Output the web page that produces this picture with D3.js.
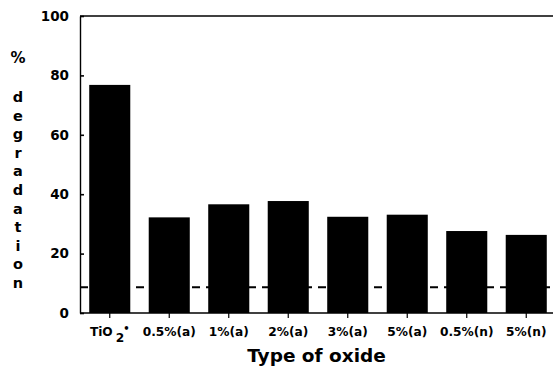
<!DOCTYPE html>
<html>
<head>
<meta charset="utf-8">
<script src="https://cdn.jsdelivr.net/npm/d3@7"></script>
<style>
  body { margin: 0; background: #fff; }
  text { font-family: "DejaVu Sans", sans-serif; font-weight: bold; fill: #000; }
</style>
</head>
<body>
<div id="chart"></div>
<script>
// data
const categories = ["TiO2", "0.5%(a)", "1%(a)", "2%(a)", "3%(a)", "5%(a)", "0.5%(n)", "5%(n)"];
const degradation = [76.8, 32.2, 36.6, 37.7, 32.4, 33.1, 27.6, 26.3];
const baseline = 8.7; // dashed reference line
const yTicks = [0, 20, 40, 60, 80, 100];
const yLetters = "degradation".split("");

const width = 553, height = 369;
const margin = { left: 80, top: 16, right: -3, bottom: 56 };

const svg = d3.select("#chart").append("svg")
  .attr("width", width)
  .attr("height", height);

const x = d3.scaleBand()
  .domain(categories)
  .range([margin.left, width - margin.right])
  .paddingInner(0.31)
  .paddingOuter(0.155);

const y = d3.scaleLinear()
  .domain([0, 100])
  .range([height - margin.bottom, margin.top]);

// bars
svg.append("g")
  .selectAll("rect")
  .data(degradation)
  .join("rect")
  .attr("x", (d, i) => x(categories[i]))
  .attr("y", d => y(d))
  .attr("width", x.bandwidth())
  .attr("height", d => y(0) - y(d))
  .attr("fill", "#000");

// dashed line
svg.append("line")
  .attr("x1", margin.left)
  .attr("x2", width)
  .attr("y1", y(baseline))
  .attr("y2", y(baseline))
  .attr("stroke", "#000")
  .attr("stroke-width", 2)
  .attr("stroke-dasharray", "8,6");

// top frame line
svg.append("line")
  .attr("x1", margin.left)
  .attr("x2", width)
  .attr("y1", y(100))
  .attr("y2", y(100))
  .attr("stroke", "#000")
  .attr("stroke-width", 1.6);

// y axis
const yAxis = svg.append("g")
  .attr("transform", "translate(" + margin.left + ",0)")
  .call(d3.axisLeft(y).tickValues(yTicks).tickSizeInner(-4).tickSizeOuter(0).tickPadding(11));
yAxis.select(".domain").attr("stroke-width", 1.4);
yAxis.selectAll(".tick line").attr("stroke-width", 1.6);
yAxis.selectAll("text").attr("font-size", "13.5px").attr("fill", "#000");

// x axis
const xAxis = svg.append("g")
  .attr("transform", "translate(0," + y(0) + ")")
  .call(d3.axisBottom(x).tickSizeInner(5).tickSizeOuter(0).tickPadding(9));
xAxis.select(".domain").attr("d", "M" + margin.left + ",0H" + width).attr("stroke-width", 1.6);
xAxis.selectAll(".tick line").attr("stroke-width", 1.2);
xAxis.selectAll("text")
  .attr("font-size", "12.2px")
  .attr("fill", "#000");

// TiO2 label with subscript and bullet
xAxis.selectAll("text").filter(d => d === "TiO2")
  .text(null)
  .call(t => {
    t.append("tspan").text("TiO");
    t.append("tspan").attr("dx", 3).attr("dy", 6).text("2");
    t.append("tspan").attr("dx", -1).attr("dy", -10).attr("font-size", "10px").text("\u2022");
  });

// axis titles
svg.append("text")
  .attr("x", (margin.left + width) / 2)
  .attr("y", 362)
  .attr("text-anchor", "middle")
  .attr("font-size", "18.5px")
  .text("Type of oxide");

svg.append("text")
  .attr("x", 18)
  .attr("y", 63)
  .attr("text-anchor", "middle")
  .attr("font-size", "15px")
  .text("%");

svg.append("g")
  .selectAll("text")
  .data(yLetters)
  .join("text")
  .attr("x", 18)
  .attr("y", (d, i) => 102 + i * 18.6)
  .attr("text-anchor", "middle")
  .attr("font-size", "14.5px")
  .text(d => d);
</script>
</body>
</html>
